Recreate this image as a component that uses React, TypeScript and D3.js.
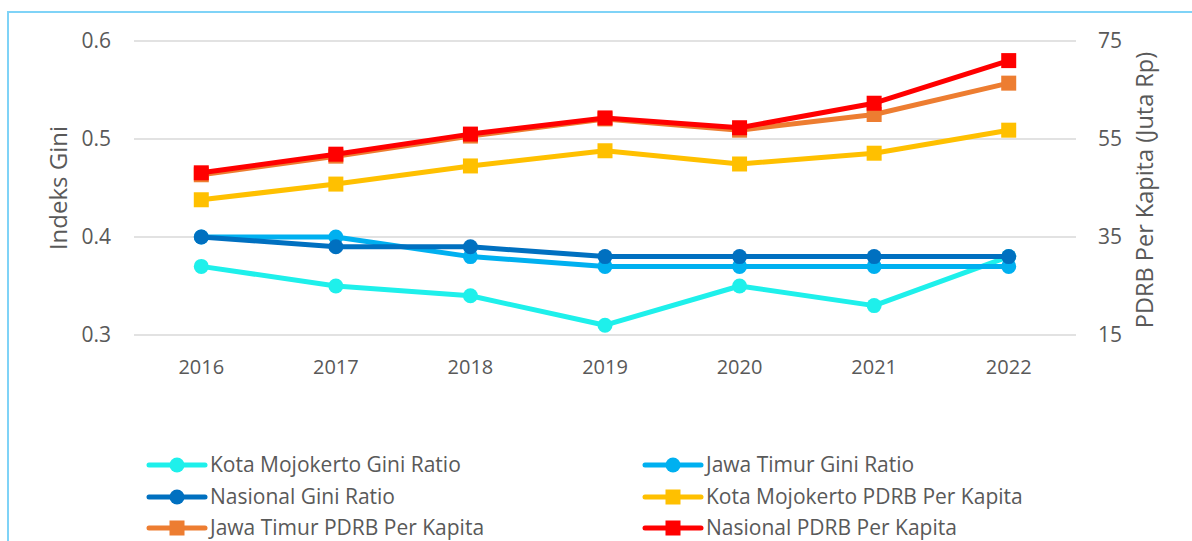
import React from "react";
import * as d3 from "d3";

const years = ["2016", "2017", "2018", "2019", "2020", "2021", "2022"];
const kotaGini = [0.37, 0.35, 0.34, 0.31, 0.35, 0.33, 0.38];
const jatimGini = [0.40, 0.40, 0.38, 0.37, 0.37, 0.37, 0.37];
const nasGini = [0.40, 0.39, 0.39, 0.38, 0.38, 0.38, 0.38];
const kotaPdrb = [42.6, 45.8, 49.5, 52.6, 49.9, 52.1, 56.8];
const jatimPdrb = [47.7, 51.5, 55.6, 59.1, 56.8, 60.0, 66.4];
const nasPdrb = [48.1, 51.9, 56.0, 59.3, 57.3, 62.3, 71.0];
const leftTicks = [0.3, 0.4, 0.5, 0.6];
const rightTicks = [15, 35, 55, 75];

const W = 1192, H = 541;
const plotL = 134, plotR = 1076, plotT = 41, plotB = 335;
const FONT = "'Open Sans', sans-serif";
const TXT = "#595959";

type Series = { name: string; values: number[]; color: string; axis: "L" | "R"; marker: "circle" | "square" };
const series: Series[] = [
  { name: "Kota Mojokerto Gini Ratio", values: kotaGini, color: "#1EF0EB", axis: "L", marker: "circle" },
  { name: "Jawa Timur Gini Ratio", values: jatimGini, color: "#00B0F0", axis: "L", marker: "circle" },
  { name: "Nasional Gini Ratio", values: nasGini, color: "#0070C0", axis: "L", marker: "circle" },
  { name: "Kota Mojokerto PDRB Per Kapita", values: kotaPdrb, color: "#FFC000", axis: "R", marker: "square" },
  { name: "Jawa Timur PDRB Per Kapita", values: jatimPdrb, color: "#ED7D31", axis: "R", marker: "square" },
  { name: "Nasional PDRB Per Kapita", values: nasPdrb, color: "#FF0000", axis: "R", marker: "square" },
];

export default function App() {
  const x = d3.scaleBand<string>().domain(years).range([plotL, plotR]);
  const yL = d3.scaleLinear().domain([0.3, 0.6]).range([plotB, plotT]);
  const yR = d3.scaleLinear().domain([15, 75]).range([plotB, plotT]);
  const cx = (y: string) => (x(y) as number) + x.bandwidth() / 2;

  const marker = (s: Series, px: number, py: number, key: string | number) =>
    s.marker === "circle" ? (
      <circle key={key} cx={px} cy={py} r={7.5} fill={s.color} />
    ) : (
      <rect key={key} x={px - 7.5} y={py - 7.5} width={15} height={15} fill={s.color} />
    );

  const legendPos = [
    { lx: 149, ly: 465 }, { lx: 645, ly: 465 },
    { lx: 149, ly: 497 }, { lx: 645, ly: 497 },
    { lx: 149, ly: 528 }, { lx: 645, ly: 528 },
  ];

  return (
    <svg width={W} height={H} style={{ position: "absolute", left: 0, top: 0, background: "#fff" }} fontFamily={FONT}>
      <rect x={8} y={12} width={W + 20} height={H + 20} fill="#fff" stroke="#7FD3F7" strokeWidth={2} />
      {leftTicks.map((t) => (
        <g key={t}>
          <line x1={plotL} x2={plotR} y1={yL(t)} y2={yL(t)} stroke="#D9D9D9" strokeWidth={1.5} />
          <text x={111} y={yL(t)} dy="0.35em" textAnchor="end" fontSize={21} fill={TXT}>{t.toFixed(1)}</text>
        </g>
      ))}
      {rightTicks.map((t) => (
        <text key={t} x={1098} y={yR(t)} dy="0.35em" textAnchor="start" fontSize={21} fill={TXT}>{t}</text>
      ))}
      {years.map((y) => (
        <text key={y} x={cx(y)} y={374} textAnchor="middle" fontSize={20} fill={TXT}>{y}</text>
      ))}
      <text transform={`translate(67,188) rotate(-90)`} textAnchor="middle" fontSize={24} fill={TXT}>Indeks Gini</text>
      <text transform={`translate(1153,190) rotate(-90)`} textAnchor="middle" fontSize={23.5} fill={TXT}>PDRB Per Kapita (Juta Rp)</text>
      {series.map((s) => {
        const ys = s.axis === "L" ? yL : yR;
        const line = d3.line<number>().x((_, j) => cx(years[j])).y((v) => ys(v));
        return (
          <g key={s.name}>
            <path d={line(s.values) || ""} fill="none" stroke={s.color} strokeWidth={5} strokeLinejoin="round" strokeLinecap="round" />
            {s.values.map((v, j) => marker(s, cx(years[j]), ys(v), j))}
          </g>
        );
      })}
      {series.map((s, i) => {
        const p = legendPos[i];
        const len = 56;
        return (
          <g key={"lg" + s.name}>
            <line x1={p.lx} x2={p.lx + len} y1={p.ly} y2={p.ly} stroke={s.color} strokeWidth={5} strokeLinecap="round" />
            {marker(s, p.lx + len / 2, p.ly, 0)}
            <text x={p.lx + len + 5} y={p.ly} dy="0.35em" fontSize={21} fill={TXT}>{s.name}</text>
          </g>
        );
      })}
    </svg>
  );
}
